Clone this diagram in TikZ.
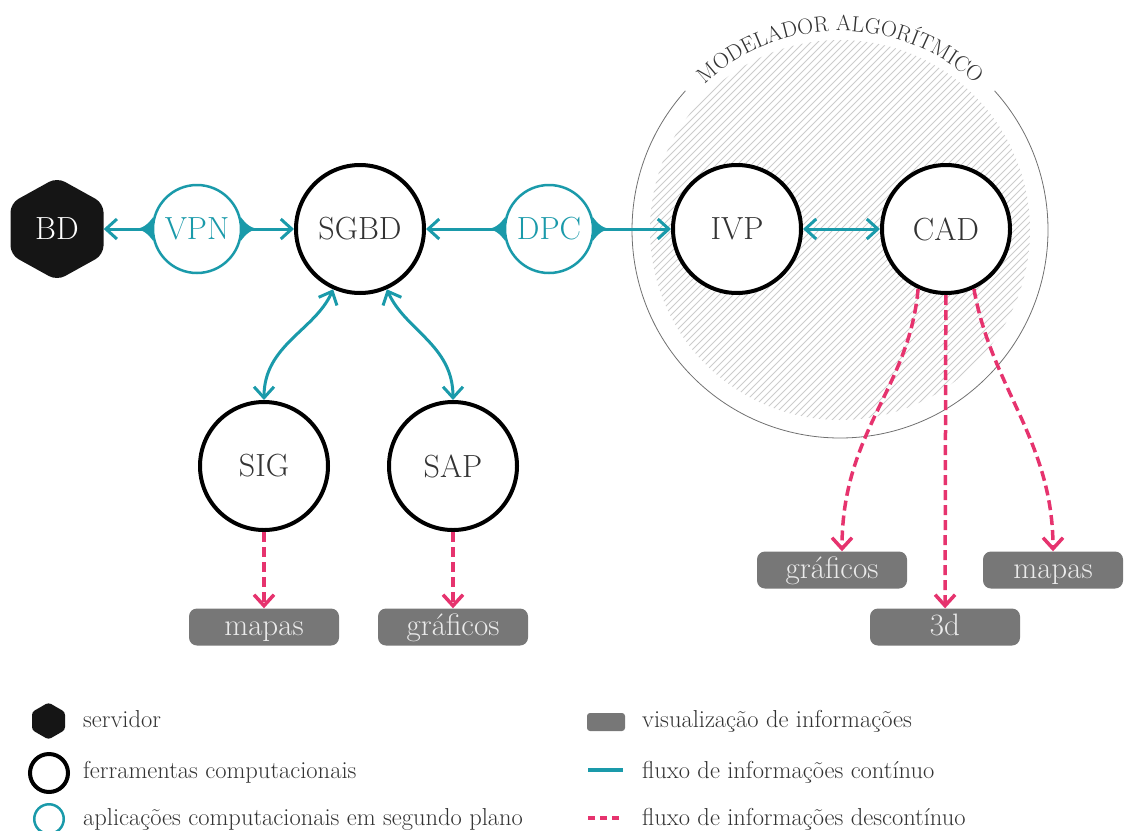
\documentclass[tikz,border=0pt]{standalone}
\usepackage{fontspec}
\usetikzlibrary{arrows.meta,decorations.text,calc}
\definecolor{tealc}{HTML}{1A9AAA}
\definecolor{magc}{HTML}{E6336E}
\definecolor{boxc}{HTML}{777777}
\definecolor{hexc}{HTML}{151515}
\definecolor{txtc}{HTML}{333333}
\definecolor{hatchc}{HTML}{CCCCCC}
\definecolor{ringc}{HTML}{707070}
\newcommand\flare[2]{%
  \fill[tealc] ($(#1.center)+(#2:64)$) .. controls ($(#1.center)+(#2:54)$) and ($(#1.center)+(#2:49)+(#2+90:5)$) .. ($(#1.center)+(#2+15:45.5)$)
   -- ($(#1.center)+(#2-15:45.5)$) .. controls ($(#1.center)+(#2:49)+(#2-90:5)$) and ($(#1.center)+(#2:54)$) .. cycle;}
\begin{document}
\begin{tikzpicture}[x=1pt,y=1pt,
  barb/.tip={Straight Barb[length=11pt,width=20pt]},
  tool/.style={circle,draw=black,line width=4pt,fill=white,minimum size=128pt,inner sep=0pt,text=txtc,font=\fontsize{32}{32}\selectfont},
  appl/.style={circle,draw=tealc,line width=2.5pt,fill=white,minimum size=88pt,inner sep=0pt,text=tealc,font=\fontsize{32}{32}\selectfont},
  viz/.style={rectangle,rounded corners=8pt,fill=boxc,minimum width=150pt,minimum height=37pt,inner sep=0pt,text height=22pt,text depth=5pt,text=white!92!black,font=\fontsize{31}{31}\selectfont},
  tflow/.style={draw=tealc,line width=3pt},
  mflow/.style={draw=magc,line width=3.5pt,dash pattern=on 10pt off 5pt,-barb},
  legtext/.style={anchor=base west,inner sep=0pt,text=txtc,font=\fontsize{24.5}{24.5}\selectfont}
]
\useasboundingbox (0,0) rectangle (1124,-830);

% algorithmic modeller zone
\begin{scope}
  \clip (840,-230) circle[radius=190];
  \foreach \i in {-287,-280,...,287}
    \draw[hatchc,line width=0.8pt] (840+\i-200,-430) -- (840+\i+200,-30);
\end{scope}
\draw[ringc,line width=0.8pt] (840,-230) ++(42:208) arc[start angle=42,end angle=-222,radius=208];
\path[decorate,decoration={text along path,text align=center,text color=txtc,
  text={|\fontsize{22}{22}\selectfont|MODELADOR ALGORÍTMICO}}]
  (840,-230) ++(142:199) arc[start angle=142,end angle=38,radius=199];

% server hexagon
\fill[hexc,rounded corners=9pt] (57,-177.5) -- (103.5,-203.25) -- (103.5,-254.75) -- (57,-280.5) -- (10.5,-254.75) -- (10.5,-203.25) -- cycle;
\node[circle,minimum size=93pt,inner sep=0pt,text=white,font=\fontsize{32}{32}\selectfont] (bd) at (57,-229) {BD};

% nodes
\node[appl] (vpn) at (197,-229) {VPN};
\node[tool] (sgbd) at (360,-229) {SGBD};
\node[appl] (dpc) at (549,-229) {DPC};
\node[tool] (ivp) at (737,-229) {IVP};
\node[tool] (cad) at (946,-229) {CAD};
\node[tool] (sig) at (264,-466) {SIG};
\node[tool] (sap) at (453,-466) {SAP};

\node[viz] (map1) at (264,-627) {mapas};
\node[viz] (gra1) at (453,-627) {gráficos};
\node[viz] (gra2) at (832,-570) {gráficos};
\node[viz] (d3) at (945,-627) {3d};
\node[viz,minimum width=140pt] (map2) at (1053,-570) {mapas};

% continuous flows
\draw[tflow,-barb] (vpn) -- (bd);
\draw[tflow,-barb] (vpn) -- (sgbd);
\draw[tflow,-barb] (dpc) -- (sgbd);
\draw[tflow,-barb] (dpc) -- (ivp);
\draw[tflow,barb-barb] (ivp) -- (cad);
\draw[tflow,barb-barb] (sgbd.246) .. controls +(246:45) and +(90:55) .. (sig.north);
\draw[tflow,barb-barb] (sgbd.294) .. controls +(294:45) and +(90:55) .. (sap.north);
\flare{vpn}{180}
\flare{vpn}{0}
\flare{dpc}{180}
\flare{dpc}{0}

% discontinuous flows
\draw[mflow] (sig) -- (map1);
\draw[mflow] (sap) -- (gra1);
\draw[mflow] (cad.245) .. controls +(265:100) and +(90:120) .. ([xshift=10pt]gra2.north);
\draw[mflow] (cad) -- (d3);
\draw[mflow] (cad.295) .. controls +(280:100) and +(90:110) .. (map2.north);

% legend
\fill[hexc,rounded corners=3pt] (48.5,-702.5) -- (65,-712) -- (65,-730) -- (48.5,-739.5) -- (32,-730) -- (32,-712) -- cycle;
\node[legtext] (l1) at (83,-727) {servidor};
\node[circle,draw=black,line width=4pt,minimum size=38pt,inner sep=0pt] (lr1) at (49,-773) {};
\node[legtext] (l2) at (83,-778) {ferramentas computacionais};
\node[circle,draw=tealc,line width=2.5pt,minimum size=29.5pt,inner sep=0pt] (lr2) at (49,-819) {};
\node[legtext] (l3) at (83,-825) {aplicações computacionais em segundo plano};

\fill[boxc,rounded corners=3pt] (587,-713) rectangle (625,-731);
\node[legtext] (l4) at (642,-727) {visualização de informações};
\draw[tealc,line width=4pt] (588,-770) -- (623,-770);
\node[legtext] (l5) at (642,-778) {fluxo de informações contínuo};
\draw[magc,line width=4pt,dash pattern=on 7pt off 5pt] (588,-818) -- (623,-818);
\node[legtext] (l6) at (642,-825) {fluxo de informações descontínuo};
\end{tikzpicture}
\end{document}
